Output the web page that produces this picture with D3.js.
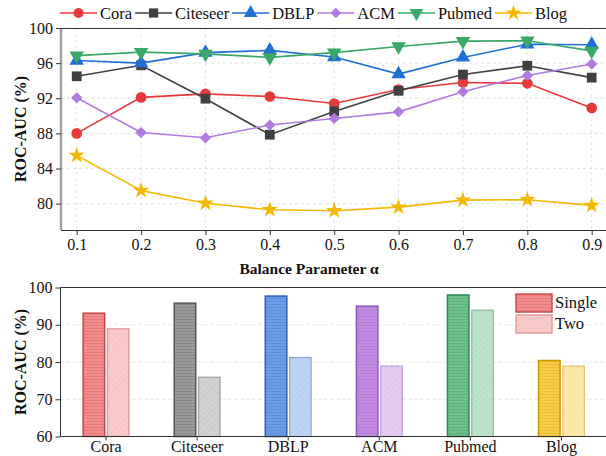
<!DOCTYPE html>
<html><head><meta charset="utf-8">
<script src="https://cdn.jsdelivr.net/npm/d3@7"></script>
<style>body{margin:0;background:#fff}svg{display:block}svg text{font-family:"Liberation Serif","Times New Roman",serif}</style>
</head><body><svg id="c" width="606" height="456"></svg>
<script>
// ---------- data ----------
const alphas = [0.1,0.2,0.3,0.4,0.5,0.6,0.7,0.8,0.9];
const datasets = ["Cora","Citeseer","DBLP","ACM","Pubmed","Blog"];
const cora     = [88.0,92.1,92.5,92.2,91.4,93.0,93.8,93.7,90.9];
const citeseer = [94.5,95.75,91.95,87.85,90.5,92.85,94.7,95.7,94.35];
const dblp     = [96.3,96.0,97.2,97.45,96.7,94.75,96.65,98.15,98.1];
const acm      = [92.05,88.1,87.5,88.95,89.7,90.45,92.75,94.6,95.9];
const pubmed   = [96.85,97.25,97.05,96.65,97.2,97.9,98.5,98.55,97.4];
const blog     = [85.5,81.5,80.05,79.3,79.2,79.6,80.4,80.45,79.8];
const singleVals = [93.1,95.8,97.7,95.0,98.0,80.4];
const twoVals    = [88.9,75.9,81.2,78.9,93.9,78.9];
const topYTicks = [80,84,88,92,96,100];
const botYTicks = [60,70,80,90,100];
const barTypes = ["Single","Two"];

const lineColors = ["#e8393a","#404040","#1f6fd6","#b07be0","#3aa868","#f5b800"];
const barFill    = ["#f28b8b","#9a9a9a","#6c9fe6","#c18be2","#6cc08a","#f8cc45"];
const barStroke  = ["#c44545","#555555","#2b60b8","#8e5cb8","#2e8b57","#c99a00"];
const seriesVals = [cora,citeseer,dblp,acm,pubmed,blog];

const FONT = '"Liberation Serif","Times New Roman",serif';
const svg = d3.select("#c");
const defs = svg.append("defs");
const light = (c,t)=>d3.interpolateRgb(c,"#ffffff")(t);

// ---------- top chart ----------
const T = {left:61, top:28, bottom:230, right:620};
const x = d3.scaleLinear().domain([0.1,0.9]).range([76.7,591.7]);
const y = d3.scaleLinear().domain([77,100]).range([T.bottom,T.top]);

const gTop = svg.append("g");
gTop.selectAll(".vg").data(alphas).join("line")
  .attr("x1",d=>x(d)).attr("x2",d=>x(d)).attr("y1",T.top).attr("y2",T.bottom)
  .attr("stroke","#dcdcdc").attr("stroke-dasharray","3,3").attr("stroke-width",0.8);
gTop.selectAll(".hg").data(topYTicks.filter(d=>d<100)).join("line")
  .attr("x1",T.left).attr("x2",T.right).attr("y1",d=>y(d)).attr("y2",d=>y(d))
  .attr("stroke","#dcdcdc").attr("stroke-dasharray","3,3").attr("stroke-width",0.8);

function styleAxis(g){
  g.attr("font-family",FONT).attr("font-size",16);
  g.selectAll(".tick line").attr("stroke","#333");
  g.selectAll("text").attr("font-size",16).attr("fill","#111").style("font-family",FONT);
}
const xAxisTop = d3.axisBottom(x).tickValues(alphas).tickFormat(d3.format(".1f")).tickSize(5).tickPadding(4);
const gx = gTop.append("g").attr("transform",`translate(0,${T.bottom})`).call(xAxisTop);
gx.select(".domain").attr("d",`M${T.left},0.5H${T.right}`).attr("stroke","#333");
styleAxis(gx);

const yAxisTop = d3.axisLeft(y).tickValues(topYTicks).tickSize(5).tickPadding(3);
const gy = gTop.append("g").attr("transform",`translate(${T.left},0)`).call(yAxisTop);
gy.select(".domain").attr("d",`M0,${T.top}V${T.bottom}`).attr("stroke","#a0a0a0").attr("stroke-width",2.5);
styleAxis(gy);
gTop.append("line").attr("x1",T.left).attr("x2",T.right).attr("y1",T.top+0.5).attr("y2",T.top+0.5).attr("stroke","#333");

const markerDefs = [
  {type:d3.symbolCircle,size:90,rot:0},
  {type:d3.symbolSquare,size:95,rot:0},
  {type:d3.symbolTriangle,size:90,rot:0},
  {type:d3.symbolSquare,size:64,rot:45},
  {type:d3.symbolTriangle,size:90,rot:180},
  {type:d3.symbolStar,size:85,rot:0}
];
const line = d3.line().x((d,i)=>x(alphas[i])).y(d=>y(d));
seriesVals.forEach((vals,si)=>{
  const g = gTop.append("g");
  g.append("path").attr("d",line(vals)).attr("fill","none").attr("stroke",lineColors[si]).attr("stroke-width",1.6);
  const m = markerDefs[si];
  g.selectAll("path.m").data(vals).join("path").attr("class","m")
    .attr("d",d3.symbol(m.type,m.size))
    .attr("transform",(d,i)=>`translate(${x(alphas[i])},${y(d)}) rotate(${m.rot})`)
    .attr("fill",lineColors[si]);
});

svg.append("text").attr("transform",`translate(25.5,${(T.top+T.bottom)/2}) rotate(-90)`)
  .attr("text-anchor","middle").attr("font-weight","bold").attr("font-size",16).attr("fill","#111").text("ROC-AUC (%)");
svg.append("text").attr("x",309).attr("y",274).attr("text-anchor","middle")
  .attr("font-weight","bold").attr("font-size",15.5).attr("fill","#111").text("Balance Parameter α");

// legend top
let lx = 60;
const legTop = svg.append("g");
datasets.forEach((name,si)=>{
  const g = legTop.append("g");
  g.append("line").attr("x1",lx).attr("x2",lx+37).attr("y1",13).attr("y2",13).attr("stroke",lineColors[si]).attr("stroke-width",1.6);
  const m = markerDefs[si];
  g.append("path").attr("d",d3.symbol(m.type,m.size*0.9)).attr("transform",`translate(${lx+18.5},13) rotate(${m.rot})`).attr("fill",lineColors[si]);
  const t = g.append("text").attr("x",lx+40).attr("y",18.5).attr("font-size",16.5).attr("fill","#111").text(name);
  lx = lx + 40 + t.node().getComputedTextLength() + 3;
});

// ---------- bottom chart ----------
const B = {left:60.5, top:287.5, bottom:436.5, right:620};
const xb = d3.scaleBand().domain(datasets).range([60.5,607]).padding(0);
const yb = d3.scaleLinear().domain([60,100]).range([B.bottom,B.top]);
const gBot = svg.append("g");
gBot.selectAll(".hg").data(botYTicks.filter(d=>d>60&&d<100)).join("line")
  .attr("x1",B.left).attr("x2",B.right).attr("y1",d=>yb(d)).attr("y2",d=>yb(d))
  .attr("stroke","#dcdcdc").attr("stroke-dasharray","3,3").attr("stroke-width",0.8);

datasets.forEach((name,si)=>{
  const p1 = defs.append("pattern").attr("id","ps"+si).attr("patternUnits","userSpaceOnUse").attr("width",6).attr("height",3);
  p1.append("rect").attr("width",6).attr("height",3).attr("fill",barFill[si]);
  p1.append("line").attr("x1",0).attr("x2",6).attr("y1",1.5).attr("y2",1.5).attr("stroke",barStroke[si]).attr("stroke-opacity",0.35).attr("stroke-width",0.7);
  const p2 = defs.append("pattern").attr("id","pt"+si).attr("patternUnits","userSpaceOnUse").attr("width",4).attr("height",4)
    .attr("patternTransform","rotate(45)");
  p2.append("rect").attr("width",4).attr("height",4).attr("fill",light(barFill[si],0.55));
  p2.append("line").attr("x1",0).attr("x2",0).attr("y1",0).attr("y2",4).attr("stroke",light(barStroke[si],0.3)).attr("stroke-opacity",0.35).attr("stroke-width",0.8);
});

const bw = 21.5, gap = 2.8;
const barData = [];
datasets.forEach((name,si)=>{
  barData.push({name,si,type:0,v:singleVals[si]});
  barData.push({name,si,type:1,v:twoVals[si]});
});
gBot.selectAll("rect.bar").data(barData).join("rect").attr("class","bar")
  .attr("x",d=>xb(d.name)+xb.bandwidth()/2 + (d.type===0 ? -gap/2-bw : gap/2))
  .attr("y",d=>yb(d.v)).attr("width",bw).attr("height",d=>yb(60)-yb(d.v))
  .attr("fill",d=>`url(#${d.type===0?"ps":"pt"}${d.si})`)
  .attr("stroke",d=>d.type===0?barStroke[d.si]:light(barStroke[d.si],0.45))
  .attr("stroke-width",d=>d.type===0?1.5:1.3);

const xbAxis = d3.axisBottom(xb).tickSize(4).tickPadding(0);
const gxb = gBot.append("g").attr("transform",`translate(0,${B.bottom})`).call(xbAxis);
gxb.select(".domain").attr("d",`M${B.left},0H${B.right}`).attr("stroke","#333");
styleAxis(gxb);

const ybAxis = d3.axisLeft(yb).tickValues(botYTicks).tickSize(5).tickPadding(3);
const gyb = gBot.append("g").attr("transform",`translate(${B.left},0)`).call(ybAxis);
gyb.select(".domain").attr("d",`M0,${B.top}V${B.bottom}`).attr("stroke","#333");
styleAxis(gyb);
gBot.append("line").attr("x1",B.left).attr("x2",B.right).attr("y1",B.top).attr("y2",B.top).attr("stroke","#333");

svg.append("text").attr("transform",`translate(25.5,${(B.top+B.bottom)/2}) rotate(-90)`)
  .attr("text-anchor","middle").attr("font-weight","bold").attr("font-size",16).attr("fill","#111").text("ROC-AUC (%)");

const lg = svg.append("g");
barTypes.forEach((name,i)=>{
  const yy = 294 + i*21;
  lg.append("rect").attr("x",516).attr("y",yy).attr("width",36).attr("height",18)
    .attr("fill",`url(#${i===0?"ps":"pt"}0)`)
    .attr("stroke",i===0?barStroke[0]:light(barStroke[0],0.45)).attr("stroke-width",1.4);
  lg.append("text").attr("x",555).attr("y",yy+14).attr("font-size",16.5).attr("fill","#111").text(name);
});
</script></body></html>
